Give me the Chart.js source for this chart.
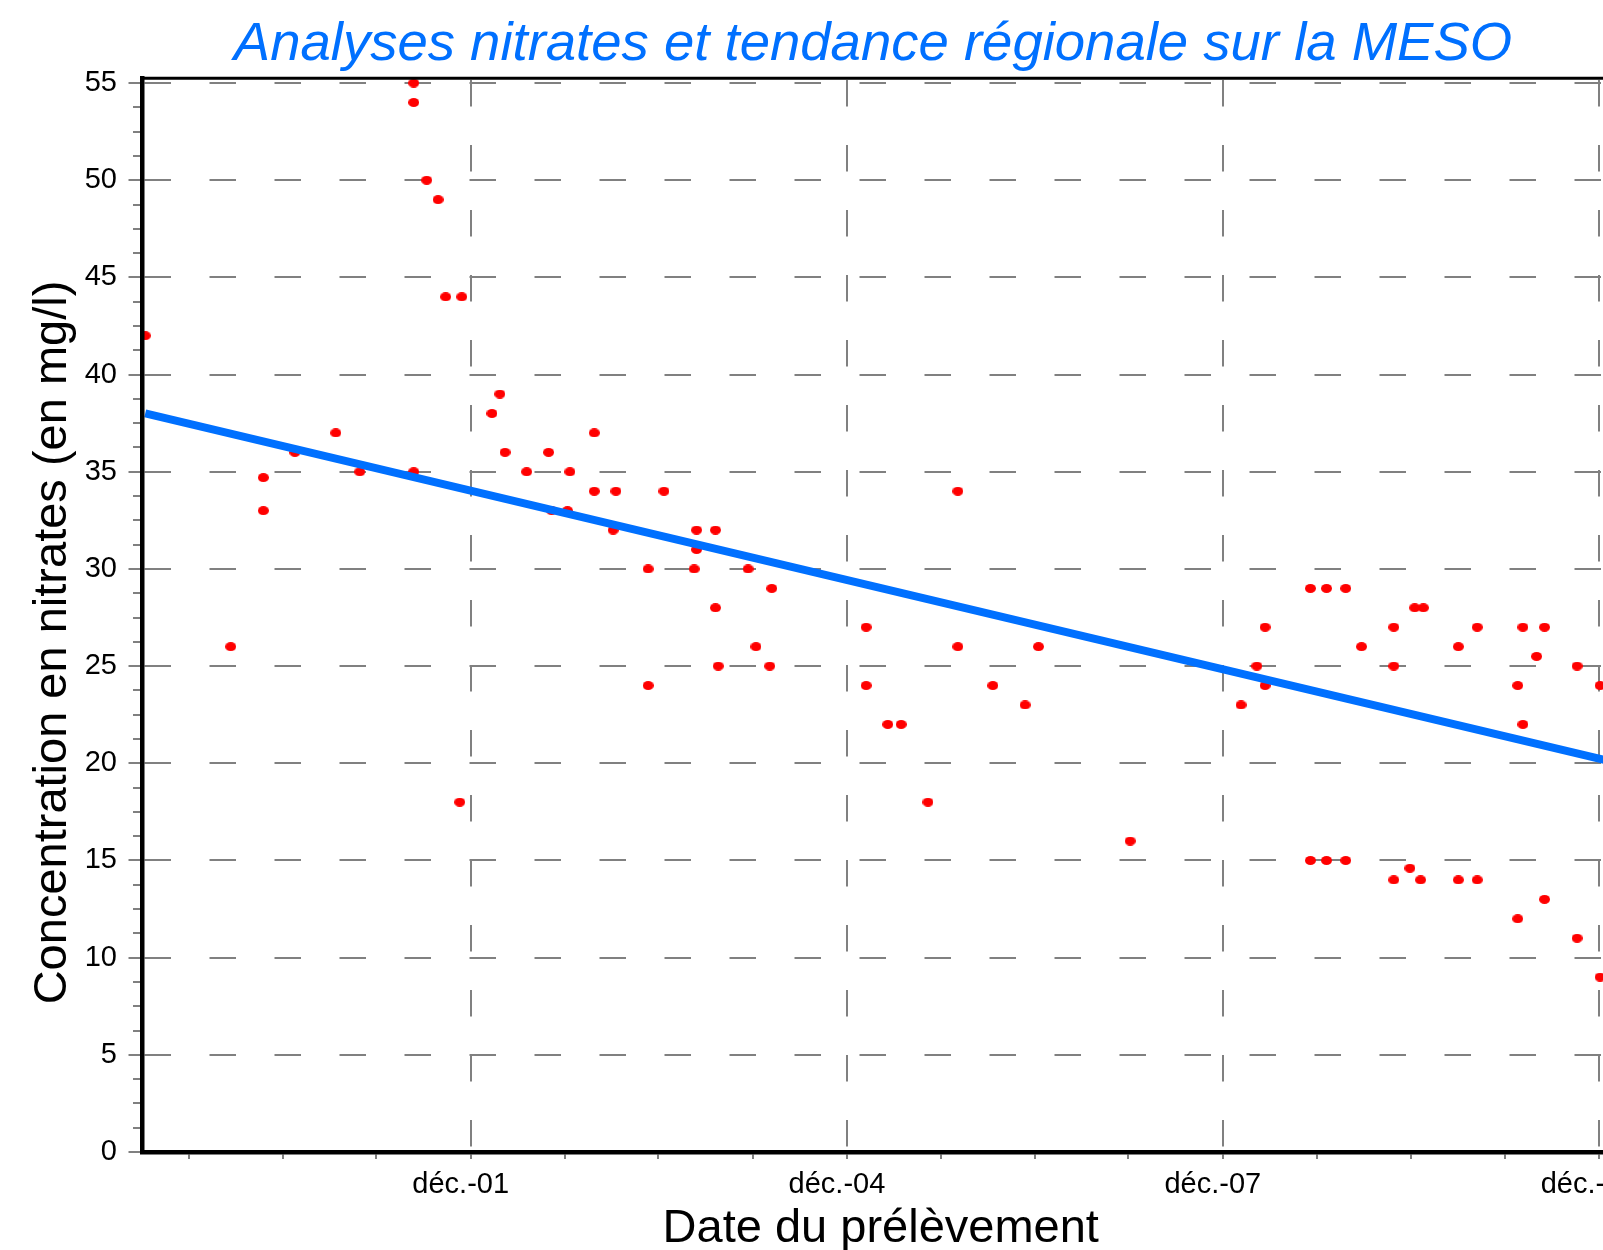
<!DOCTYPE html>
<html>
<head>
<meta charset="utf-8">
<script src="https://cdn.jsdelivr.net/npm/chart.js@4.4.1/dist/chart.umd.min.js"></script>
<style>
  html, body { margin: 0; padding: 0; background: #ffffff; overflow: hidden; width: 1603px; height: 1250px; }
  #wrap { position: absolute; left: 0; top: 0; width: 1746px; height: 1270px; }
</style>
</head>
<body>
<div id="wrap"><canvas id="chart" width="1746" height="1270"></canvas></div>
<script>
// ---- Data ----
const sampleDates = [
  '1999-04-28','2000-01-02','2000-04-06','2000-04-06','2000-07-07','2000-11-03','2001-01-12',
  '2001-06-18','2001-06-18','2001-06-18','2001-07-26','2001-08-28','2001-09-19','2001-10-30','2001-11-05',
  '2002-02-01','2002-02-24','2002-03-11','2002-05-13','2002-07-16','2002-07-25','2002-09-09','2002-09-16',
  '2002-11-26','2002-11-26','2003-01-20','2003-01-28','2003-05-02','2003-05-02','2003-06-17','2003-09-13',
  '2003-09-20','2003-09-20','2003-11-14','2003-11-14','2003-11-22','2004-02-17','2004-03-11','2004-04-20',
  '2004-04-26','2005-01-26','2005-01-26','2005-03-30','2005-05-08','2005-07-25','2005-10-20','2005-10-20',
  '2006-01-30','2006-05-04','2006-06-12','2007-03-06','2008-01-23','2008-03-09','2008-04-02','2008-04-02',
  '2008-08-12','2008-08-12','2008-09-28','2008-09-28','2008-11-23','2008-11-23','2009-01-08','2009-04-12',
  '2009-04-12','2009-04-12','2009-05-29','2009-06-12','2009-06-29','2009-07-07','2009-10-17','2009-10-17',
  '2009-12-11','2009-12-11','2010-04-08','2010-04-08','2010-04-23','2010-04-23','2010-06-02','2010-06-25',
  '2010-06-25','2010-09-28','2010-09-28','2010-12-04','2010-12-04'
];
const nitrateValues = [
  42, 26, 34.7, 33, 36, 37, 35,
  55, 54, 35, 50, 49, 44, 18, 44,
  38, 39, 36, 35, 36, 33, 33, 35,
  37, 34, 32, 34, 30, 24, 34, 30,
  32, 31, 32, 28, 25, 30, 26, 25,
  29, 27, 24, 22, 22, 18, 34, 26,
  24, 23, 26, 16, 23, 25, 27, 24,
  29, 15, 29, 15, 29, 15, 26, 27,
  25, 14, 14.6, 28, 14, 28, 26, 14,
  27, 14, 24, 12, 27, 22, 25.5, 27,
  13, 25, 11, 24, 9
];
// Regional trend line (end points)
const trendDates  = ['1999-04-28', '2011-01-28'];
const trendValues = [38.0, 20.0];

// Axis range and ticks
const xRange = ['1999-04-20', '2011-01-28'];
const majorTickDates  = ['2001-12-01', '2004-12-01', '2007-12-01', '2010-12-01'];
const majorTickLabels = ['déc.-01', 'déc.-04', 'déc.-07', 'déc.-10'];
const minorTickDates  = ['1999-09-01','2000-06-01','2001-03-01','2002-09-01','2003-06-01','2004-03-01',
                         '2005-09-01','2006-06-01','2007-03-01','2008-09-01','2009-06-01','2010-03-01'];
const yMajorTicks  = [0, 5, 10, 15, 20, 25, 30, 35, 40, 45, 50, 55];
const yMinorPerMajor = 4;
const yRange = [0, 55.25];

const chartTitle = 'Analyses nitrates et tendance régionale sur la MESO';
const xAxisTitle = 'Date du prélèvement';
const yAxisTitle = 'Concentration en nitrates (en mg/l)';

// ---- helpers ----
const toTime = s => { const p = s.split('-').map(Number); return Date.UTC(p[0], p[1] - 1, p[2]); };
const majorTimes = majorTickDates.map(toTime);
const allXTicks = majorTimes.concat(minorTickDates.map(toTime)).sort((a, b) => a - b);
const yTicksAll = [];
yMajorTicks.forEach((v, i) => {
  yTicksAll.push(v);
  if (i < yMajorTicks.length - 1) {
    const step = (yMajorTicks[i + 1] - v) / yMinorPerMajor;
    for (let k = 1; k < yMinorPerMajor; k++) yTicksAll.push(v + k * step);
  }
});
const isMajorX = c => !!(c && c.tick && majorTimes.indexOf(c.tick.value) >= 0);
const isMajorY = c => !!(c && c.tick && yMajorTicks.indexOf(c.tick.value) >= 0);

const FONT = "'Liberation Sans', Arial, Helvetica, sans-serif";
Chart.defaults.font.family = FONT;
Chart.defaults.color = '#000000';

const BLUE = 'rgb(0,112,255)';
const GRID = '#808080';

// red elliptical marker
const dot = document.createElement('canvas');
dot.width = 11; dot.height = 9;
(function () {
  const g = dot.getContext('2d');
  g.fillStyle = '#ff0000';
  g.beginPath();
  g.ellipse(5.5, 4.5, 5.5, 4.5, 0, 0, Math.PI * 2);
  g.fill();
})();

const topBorder = {
  id: 'topBorder',
  afterDraw(chart) {
    const a = chart.chartArea, c = chart.ctx;
    c.save();
    c.strokeStyle = '#000000';
    c.lineWidth = 3;
    c.beginPath();
    c.moveTo(a.left - 2, a.top);
    c.lineTo(a.right, a.top);
    c.stroke();
    c.restore();
  }
};
const yTitle = {
  id: 'yTitle',
  afterDraw(chart) {
    const c = chart.ctx;
    c.save();
    c.font = '47px ' + FONT;
    c.fillStyle = '#000000';
    c.textAlign = 'center';
    c.textBaseline = 'alphabetic';
    c.translate(66, 642.5);
    c.rotate(-Math.PI / 2);
    c.fillText(yAxisTitle, 0, 0);
    c.restore();
  }
};

new Chart(document.getElementById('chart'), {
  type: 'scatter',
  data: {
    datasets: [
      {
        label: 'Tendance régionale',
        data: trendDates.map((d, i) => ({ x: toTime(d), y: trendValues[i] })),
        showLine: true,
        borderColor: BLUE,
        backgroundColor: BLUE,
        borderWidth: 8,
        pointRadius: 0,
        order: 0
      },
      {
        label: 'Analyses nitrates',
        data: sampleDates.map((d, i) => ({ x: toTime(d), y: nitrateValues[i] })),
        pointStyle: dot,
        pointRadius: 5,
        backgroundColor: '#ff0000',
        borderWidth: 0,
        order: 1
      }
    ]
  },
  options: {
    responsive: false,
    animation: false,
    devicePixelRatio: 1,
    layout: { padding: { left: 0, right: 0, top: 0, bottom: 0 } },
    plugins: {
      legend: { display: false },
      tooltip: { enabled: false },
      title: {
        display: true,
        text: chartTitle,
        color: BLUE,
        font: { size: 54.5, style: 'italic', weight: 'normal', lineHeight: 1.2 },
        padding: { top: 11.8, bottom: 1 }
      }
    },
    scales: {
      x: {
        type: 'linear',
        position: 'bottom',
        bounds: 'data',
        min: toTime(xRange[0]),
        max: toTime(xRange[1]),
        afterBuildTicks: s => { s.ticks = allXTicks.map(v => ({ value: v })); },
        afterFit: s => { s.height = 118; },
        ticks: {
          autoSkip: false, maxRotation: 0, minRotation: 0, padding: 8.5, labelOffset: -10,
          font: { size: 29 }, color: '#000000',
          callback: v => { const i = majorTimes.indexOf(v); return i >= 0 ? majorTickLabels[i] : ''; }
        },
        grid: {
          color: c => isMajorX(c) ? GRID : 'rgba(0,0,0,0)',
          lineWidth: 2,
          drawTicks: true,
          tickLength: 7,
          tickColor: GRID,
          tickWidth: 2
        },
        border: { display: true, color: '#000000', width: 4.5, z: 1, dash: [26.5, 38.5], dashOffset: 63.2 },
        title: {
          display: true, text: xAxisTitle, color: '#000000',
          font: { size: 47, lineHeight: 1.2 },
          padding: { top: 0, bottom: 13 }
        }
      },
      y: {
        type: 'linear',
        position: 'left',
        bounds: 'data',
        min: yRange[0],
        max: yRange[1],
        afterBuildTicks: s => { s.ticks = yTicksAll.map(v => ({ value: v })); },
        afterFit: s => { s.width = 142.5; },
        ticks: {
          autoSkip: false, padding: 11.5, font: { size: 29 }, color: '#000000',
          callback: v => yMajorTicks.indexOf(v) >= 0 ? String(v) : ''
        },
        grid: {
          color: c => isMajorY(c) ? GRID : 'rgba(0,0,0,0)',
          lineWidth: 2,
          drawTicks: true,
          tickLength: 14,
          tickColor: GRID,
          tickWidth: 2,
          tickBorderDash: c => isMajorY(c) ? [] : [30, 4.5],
          tickBorderDashOffset: c => isMajorY(c) ? 0 : 30
        },
        border: { display: true, color: '#000000', width: 4.5, z: 1, dash: [26.5, 38.5], dashOffset: 0 },
        title: { display: false }
      },
      // empty right-hand box that reserves the space where the plot continues beyond the picture
      yRightSpace: {
        type: 'linear',
        position: 'right',
        min: 0, max: 1,
        afterFit: s => { s.width = 127; },
        ticks: { display: false },
        grid: { display: false, drawOnChartArea: false, drawTicks: false },
        border: { display: false },
        title: { display: false }
      }
    }
  },
  plugins: [topBorder, yTitle]
});
</script>
</body>
</html>
